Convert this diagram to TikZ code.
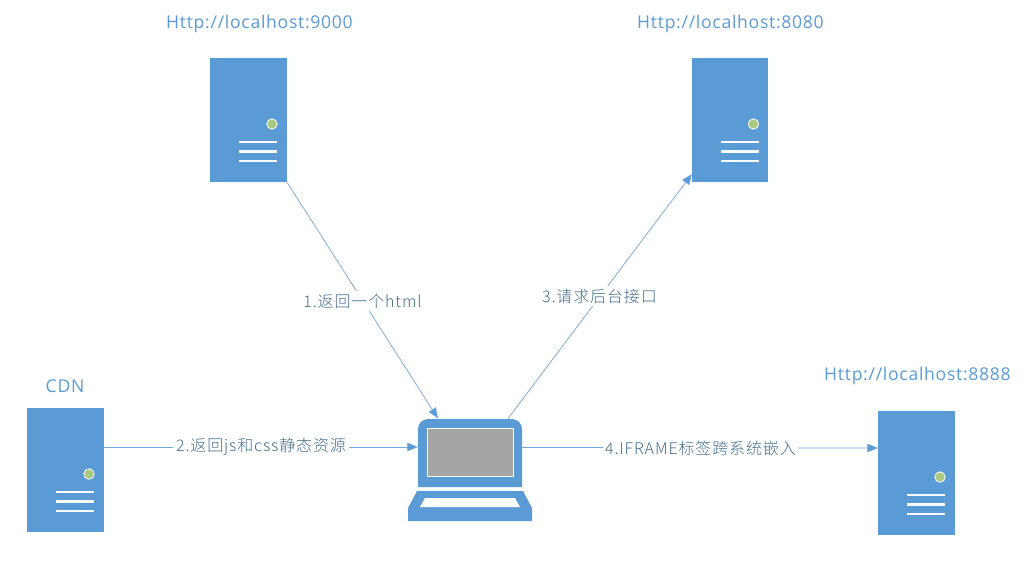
\documentclass[tikz,border=0pt]{standalone}
\usepackage{fontspec}
\setmainfont{Noto Sans CJK SC}
\newfontfamily\lab[LetterSpace=5.5,UprightFont=* Light]{Noto Sans CJK SC}
\newfontfamily\ttl[LetterSpace=4]{Open Sans}
\usetikzlibrary{arrows.meta,calc}
\definecolor{blu}{HTML}{5B9BD5}
\definecolor{grn}{HTML}{A9C97F}
\definecolor{gry}{HTML}{A5A5A5}
\definecolor{txt}{HTML}{44708F}
\tikzset{
  x=0.75pt,y=-0.75pt,
  srv/.style={draw=none,fill=blu,minimum width=57.5pt,minimum height=93pt,inner sep=0pt,anchor=north west},
  conn/.style={draw=blu!85,line width=0.55pt,-{Triangle[length=8pt,width=6.5pt,fill=blu]}},
  lbl/.style={fill=white,font=\lab\fontsize{12pt}{14pt}\selectfont,text=txt,inner sep=2pt},
  ttlstyle/.style={font=\ttl\fontsize{13.2pt}{15pt}\selectfont,text=blu,inner sep=0pt},
}
\newcommand{\serverdetail}[1]{%
  \fill[grn,draw=white,line width=0.6pt] ($(#1.north west)+(62,66)$) circle[radius=3.9pt];
  \foreach \yy in {84,93.5,103}{
    \draw[white,line width=2.1pt] ($(#1.north west)+(29,\yy)$) -- ($(#1.north west)+(67,\yy)$);
  }%
}
\begin{document}
\begin{tikzpicture}
\useasboundingbox (0,0) rectangle (1024,573);
\fill[white] (0,0) rectangle (1024,573);
\node[srv] (s9000) at (210,58) {};
\node[srv] (s8080) at (691.5,58) {};
\node[srv] (cdn) at (27,408) {};
\node[srv] (s8888) at (878,411) {};
\serverdetail{s9000}\serverdetail{s8080}\serverdetail{cdn}\serverdetail{s8888}
\node[ttlstyle] (t9000) at (259.5,23.5) {Http://localhost:9000};
\node[ttlstyle] (t8080) at (730.5,23.5) {Http://localhost:8080};
\node[ttlstyle] (t8888) at (917.5,375.5) {Http://localhost:8888};
\node[ttlstyle] (tcdn) at (65,386) {CDN};
% laptop
\fill[blu] (418,487) -- (418,429) arc[start angle=180,end angle=90,radius=7.5pt] -- (512,419) arc[start angle=90,end angle=0,radius=7.5pt] -- (522,487) -- cycle;
\node[draw=white,line width=0.6pt,fill=gry,minimum width=64.5pt,minimum height=35.5pt,inner sep=0pt] (lap) at (470.5,452.5) {};
\fill[blu] (417,491) -- (523,491) -- (532,508) -- (532,521) -- (408,521) -- (408,508) -- cycle;
\fill[white] (425,498) -- (515,498) -- (520,507) -- (420,507) -- cycle;
\coordinate (lapN) at (438,418.5);
\coordinate (lapNE) at (507,420);
\coordinate (lapW) at (418,447);
\coordinate (lapE) at (522,447.5);
\coordinate (s8080in) at (692,174);
\coordinate (cdnout) at (104,447);
\coordinate (s8888in) at (878,448);
\draw[conn] (s9000.south east) -- (lapN);
\draw[conn] (lapNE) -- (s8080in);
\draw[conn] (cdnout) -- (lapW);
\draw[conn] (lapE) -- (s8888in);
\node[lbl] (l1) at (362.5,301) {1.返回一个html};
\node[lbl] (l3) at (599.5,296) {3.请求后台接口};
\node[lbl] (l2) at (261,447) {2.返回js和css静态资源};
\node[lbl] (l4) at (700.5,448) {4.IFRAME标签跨系统嵌入};
\end{tikzpicture}
\end{document}
